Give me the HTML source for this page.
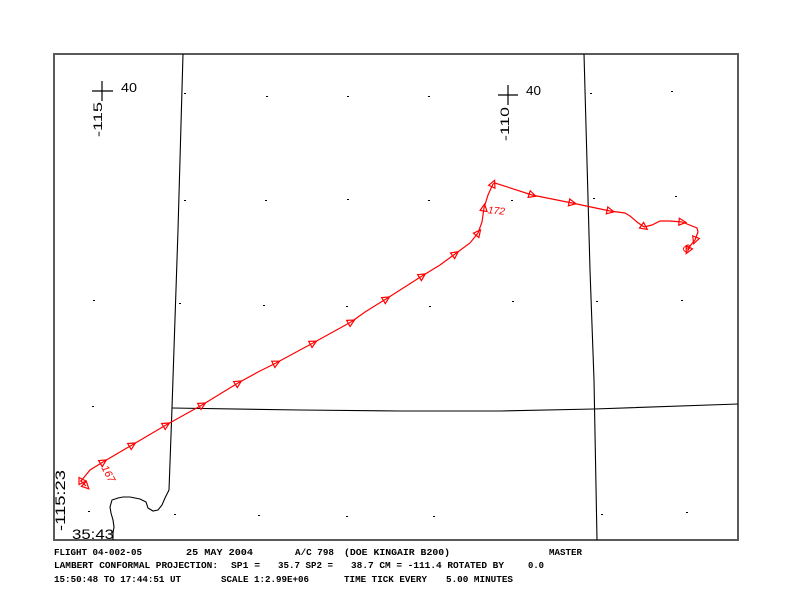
<!DOCTYPE html>
<html>
<head>
<meta charset="utf-8">
<style>
html,body{margin:0;padding:0;background:#fff;}
svg{display:block;}
.ft{font-family:"Liberation Mono",monospace;font-size:9px;font-weight:bold;fill:#000;}
</style>
</head>
<body>
<svg width="792" height="612" viewBox="0 0 792 612" xmlns="http://www.w3.org/2000/svg">
<defs>
<marker id="tri" markerUnits="userSpaceOnUse" markerWidth="12" markerHeight="12" viewBox="-6 -6 12 12" refX="0" refY="0" orient="auto">
<path d="M-3,-3.5 L4,0 L-3,3.5 Z" fill="none" stroke="#ff0000" stroke-width="1.2"/>
</marker>
</defs>
<rect x="0" y="0" width="792" height="612" fill="#fff"/>
<!-- frame -->
<rect x="54" y="54" width="684" height="486" fill="none" stroke="#5a5a5a" stroke-width="2"/>

<!-- boundaries -->
<g fill="none" stroke="#000" stroke-width="1.1">
<polyline points="183,54 178,230 172,408 169,490 165,498 162,505 158,510 153,511 148,508 146,502 140,499 130,497 123,497 118,498 112,500 110,507 111,513 113,520 114,527 113,533 113,540"/>
<polyline points="172,408 300,410 400,411 500,411 594,409 738,404"/>
<polyline points="584,54 590,270 594,380 597,540"/>
</g>

<!-- grid dots -->
<g fill="#000">
<rect x="184" y="93" width="2" height="1"/>
<rect x="266" y="96" width="2" height="1"/>
<rect x="347" y="96" width="2" height="1"/>
<rect x="428" y="96" width="2" height="1"/>
<rect x="590" y="93" width="2" height="1"/>
<rect x="671" y="91" width="2" height="1"/>
<rect x="184" y="200" width="2" height="1"/>
<rect x="265" y="200" width="2" height="1"/>
<rect x="347" y="199" width="2" height="1"/>
<rect x="428" y="200" width="2" height="1"/>
<rect x="511" y="200" width="2" height="1"/>
<rect x="593" y="198" width="2" height="1"/>
<rect x="675" y="196" width="2" height="1"/>
<rect x="93" y="300" width="2" height="1"/>
<rect x="179" y="303" width="2" height="1"/>
<rect x="263" y="305" width="2" height="1"/>
<rect x="346" y="306" width="2" height="1"/>
<rect x="429" y="306" width="2" height="1"/>
<rect x="512" y="301" width="2" height="1"/>
<rect x="596" y="301" width="2" height="1"/>
<rect x="681" y="300" width="2" height="1"/>
<rect x="92" y="406" width="2" height="1"/>
<rect x="88" y="511" width="2" height="1"/>
<rect x="174" y="514" width="2" height="1"/>
<rect x="258" y="515" width="2" height="1"/>
<rect x="346" y="516" width="2" height="1"/>
<rect x="433" y="516" width="2" height="1"/>
<rect x="601" y="514" width="2" height="1"/>
<rect x="686" y="512" width="2" height="1"/>
</g>

<!-- crosses -->
<g stroke="#000" stroke-width="1.2">
<line x1="92" y1="91" x2="113" y2="91"/>
<line x1="102" y1="81" x2="102" y2="101"/>
<line x1="498" y1="95" x2="518" y2="95"/>
<line x1="508" y1="85" x2="508" y2="105"/>
</g>
<g font-family="Liberation Sans, sans-serif" fill="#000">
<text x="121" y="92" font-size="12.5" textLength="16" lengthAdjust="spacingAndGlyphs">40</text>
<text x="526" y="95" font-size="12.5" textLength="15" lengthAdjust="spacingAndGlyphs">40</text>
<text transform="translate(102,137) rotate(-90)" font-size="11.5" textLength="35" lengthAdjust="spacingAndGlyphs">-115</text>
<text transform="translate(509,141) rotate(-90)" font-size="11.5" textLength="34" lengthAdjust="spacingAndGlyphs">-110</text>
<text transform="translate(65,531) rotate(-90)" font-size="14" textLength="61" lengthAdjust="spacingAndGlyphs">-115:23</text>
<text x="72" y="539" font-size="14" textLength="42" lengthAdjust="spacingAndGlyphs">35:43</text>
</g>

<!-- flight track -->
<g fill="none" stroke="#ff0000" stroke-width="1.2" marker-end="url(#tri)">
<path d="M80,481 L82,481"/>
<path d="M81,481 L86,486"/>
<path d="M81,481 L90,470 L103,462"/>
<path d="M103,462 L132,445"/>
<path d="M132,445 L166,425"/>
<path d="M166,425 L202,405"/>
<path d="M202,405 L238,383"/>
<path d="M238,383 L258,372 L276,363"/>
<path d="M276,363 L313,343"/>
<path d="M313,343 L351,322"/>
<path d="M351,322 L365,312 L386,299"/>
<path d="M386,299 L422,276"/>
<path d="M422,276 L440,265 L455,254"/>
<path d="M455,254 L470,243 L478,233"/>
<path d="M478,233 L482,222 L484,208"/>
<path d="M484,208 L488,195 L493,184"/>
<path d="M493,184 L495,183 L532,195"/>
<path d="M532,195 L572,203"/>
<path d="M572,203 L610,211"/>
<path d="M610,211 L625,213 L630,216 L637,222 L644,227"/>
<path d="M644,227 L652,225 L660,221 L670,221 L682,222"/>
<path d="M682,222 L697,228 L698,232 L695,240"/>
<path d="M695,240 L690,246 L688,250"/>
</g>
<g fill="none" stroke="#ff0000" stroke-width="1">
<circle cx="686" cy="249" r="2.5"/>
<circle cx="688" cy="247" r="2"/>
</g>
<g font-family="Liberation Sans, sans-serif" fill="#ff0000" font-style="italic">
<text x="488" y="214" font-size="10" transform="rotate(5 496 210)" textLength="17" lengthAdjust="spacingAndGlyphs">172</text>
<text font-size="10.5" text-anchor="middle" dominant-baseline="central" transform="translate(108,474) rotate(62)">167</text>
</g>

<!-- footer -->
<text class="ft" x="54" y="555" textLength="88" lengthAdjust="spacingAndGlyphs">FLIGHT 04-002-05</text>
<text class="ft" x="186" y="555" textLength="67" lengthAdjust="spacingAndGlyphs">25 MAY 2004</text>
<text class="ft" x="295" y="555" textLength="39" lengthAdjust="spacingAndGlyphs">A/C 798</text>
<text class="ft" x="344" y="555" textLength="106" lengthAdjust="spacingAndGlyphs">(DOE KINGAIR B200)</text>
<text class="ft" x="549" y="555" textLength="33" lengthAdjust="spacingAndGlyphs">MASTER</text>

<text class="ft" x="54" y="568" textLength="164" lengthAdjust="spacingAndGlyphs">LAMBERT CONFORMAL PROJECTION:</text>
<text class="ft" x="231" y="568" textLength="29" lengthAdjust="spacingAndGlyphs">SP1 =</text>
<text class="ft" x="278" y="568" textLength="55" lengthAdjust="spacingAndGlyphs">35.7 SP2 =</text>
<text class="ft" x="351" y="568" textLength="153" lengthAdjust="spacingAndGlyphs">38.7 CM = -111.4 ROTATED BY</text>
<text class="ft" x="528" y="568" textLength="16" lengthAdjust="spacingAndGlyphs">0.0</text>

<text class="ft" x="54" y="582" textLength="127" lengthAdjust="spacingAndGlyphs">15:50:48 TO 17:44:51 UT</text>
<text class="ft" x="221" y="582" textLength="88" lengthAdjust="spacingAndGlyphs">SCALE 1:2.99E+06</text>
<text class="ft" x="344" y="582" textLength="83" lengthAdjust="spacingAndGlyphs">TIME TICK EVERY</text>
<text class="ft" x="446" y="582" textLength="67" lengthAdjust="spacingAndGlyphs">5.00 MINUTES</text>
</svg>
</body>
</html>
